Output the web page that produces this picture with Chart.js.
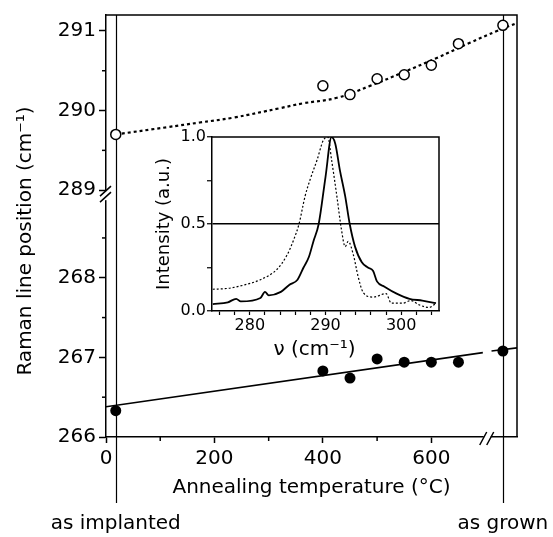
<!DOCTYPE html>
<html>
<head>
<meta charset="utf-8">
<script src="https://cdn.jsdelivr.net/npm/chart.js@4.4.1/dist/chart.umd.min.js"></script>
<style>
  body { margin: 0; background: #fff; }
  #wrap { position: relative; width: 553px; height: 537px; }
  #main { position: absolute; left: 0; top: 0; }
  #inset { position: absolute; left: 130px; top: 120px; }
</style>
</head>
<body>
<div id="wrap">
  <canvas id="main" width="553" height="537"></canvas>
  <canvas id="inset" width="320" height="250"></canvas>
</div>
<script>
// main plot: Raman line position vs annealing temperature
const asImplanted = 18;   // room temperature, drawn on its own line
const asGrown = 732;      // placed past the axis break
const temps = [asImplanted, 400, 450, 500, 550, 600, 650, asGrown];
const lowerPos = [266.33, 266.83, 266.74, 266.98, 266.94, 266.94, 266.94, 267.08];
const upperPos = [289.70, 290.31, 290.20, 290.40, 290.45, 290.57, 290.84, 291.07];

// linear fit of the lower branch (gap at the axis break)
const fitT = [0, 695, 703, 711, 758];
const fitPos = [266.38, 267.06, null, 267.08, 267.12];

// dotted guide through the upper branch
const guideT = [18, 112, 173, 234, 321, 363, 426, 487, 548, 610, 671, 721, 758];
const guidePos = [289.70, 289.79, 289.85, 289.91, 290.03, 290.09, 290.16, 290.31, 290.48, 290.66, 290.85, 291.00, 291.10];

// axis ticks
const xMajor = [0, 200, 400, 600];
const xMinor = [100, 300, 500];
const yLowMajor = [266, 267, 268];
const yHighMajor = [289, 290, 291];
const yMinor = [266.5, 267.5, 268.5, 289.5, 290.5];

// inset: Raman spectra
const solidNu = [275.1, 277.1, 278.2, 278.8, 281.4, 282.0, 282.5, 284.1, 285.2, 286.3, 287.1, 287.8, 288.4, 289.1, 290.0, 290.8, 291.3, 291.9, 292.6, 293.2, 293.9, 294.8, 295.6, 296.3, 296.8, 297.8, 299.4, 301.1, 302.8, 304.6];
const solidI = [0.04, 0.05, 0.07, 0.055, 0.075, 0.11, 0.09, 0.11, 0.15, 0.18, 0.25, 0.31, 0.40, 0.50, 0.77, 1.0, 0.96, 0.81, 0.66, 0.50, 0.37, 0.28, 0.25, 0.23, 0.17, 0.14, 0.10, 0.07, 0.06, 0.045];
const dotNu = [275.1, 277.1, 279.3, 281.4, 283.6, 284.9, 285.8, 286.5, 287.3, 288.0, 288.9, 289.7, 290.3, 290.8, 291.5, 292.1, 292.6, 293.0, 293.7, 294.3, 295.0, 296.3, 298.0, 298.7, 300.2, 301.3, 302.4, 303.7, 304.6];
const dotI = [0.125, 0.13, 0.15, 0.18, 0.24, 0.32, 0.41, 0.50, 0.66, 0.76, 0.87, 0.98, 1.0, 0.87, 0.66, 0.47, 0.37, 0.40, 0.32, 0.20, 0.105, 0.08, 0.10, 0.045, 0.045, 0.06, 0.035, 0.02, 0.045];

// y axis is broken between 268.x and 289: upper values are shifted down
const SHIFT = 19.9;
const virt = v => (v > 280 ? v - SHIFT : v);

Chart.defaults.font.family = "'DejaVu Sans', sans-serif";
Chart.defaults.color = '#000';

const pts = (xs, ys, f = v => v) => xs.map((x, i) => ({ x: x, y: ys[i] === null ? null : f(ys[i]) }));

const mainFont = { size: 20 };

const mainPlugin = {
  id: 'mainExtras',
  beforeDatasetsDraw(chart) {
    const { ctx, chartArea: a, scales: { x } } = chart;
    ctx.save();
    ctx.strokeStyle = '#000';
    ctx.lineWidth = 1.5;
    ctx.beginPath();
    ctx.moveTo(a.left, a.top);
    ctx.lineTo(a.right, a.top);
    ctx.lineTo(a.right, a.bottom);
    ctx.stroke();
    ctx.lineWidth = 1.2;
    [asImplanted, asGrown].forEach(t => {
      const px = Math.round(x.getPixelForValue(t)) + 0.5;
      ctx.beginPath();
      ctx.moveTo(px, a.top);
      ctx.lineTo(px, a.bottom + 66);
      ctx.stroke();
    });
    ctx.restore();
  },
  afterDraw(chart) {
    const { ctx, chartArea: a, scales: { x, y } } = chart;
    ctx.save();
    ctx.strokeStyle = '#000';
    ctx.lineWidth = 1.5;
    // minor ticks
    yMinor.forEach(v => {
      const py = y.getPixelForValue(virt(v));
      ctx.beginPath(); ctx.moveTo(a.left - 4, py); ctx.lineTo(a.left, py); ctx.stroke();
    });
    xMinor.forEach(v => {
      const px = x.getPixelForValue(v);
      ctx.beginPath(); ctx.moveTo(px, a.bottom); ctx.lineTo(px, a.bottom + 4); ctx.stroke();
    });
    // y break
    const yb = y.getPixelForValue(virt(289));
    ctx.fillStyle = '#fff';
    ctx.fillRect(a.left - 2, yb + 1, 4, 9);
    ctx.beginPath();
    ctx.moveTo(a.left - 6, yb + 6); ctx.lineTo(a.left + 5, yb - 4);
    ctx.moveTo(a.left - 6, yb + 12); ctx.lineTo(a.left + 5, yb + 2);
    ctx.stroke();
    // x break
    const xb = x.getPixelForValue(704);
    ctx.fillRect(xb - 4, a.bottom - 2, 7, 4);
    ctx.beginPath();
    ctx.moveTo(xb - 8, a.bottom + 8); ctx.lineTo(xb - 1, a.bottom - 5);
    ctx.moveTo(xb - 1, a.bottom + 8); ctx.lineTo(xb + 6, a.bottom - 5);
    ctx.stroke();
    // labels
    ctx.fillStyle = '#000';
    ctx.font = "20px 'DejaVu Sans'";
    ctx.textAlign = 'center';
    ctx.textBaseline = 'middle';
    ctx.fillText('as implanted', x.getPixelForValue(asImplanted), 524);
    ctx.fillText('as grown', x.getPixelForValue(asGrown), 524);
    ctx.translate(26, 241);
    ctx.rotate(-Math.PI / 2);
    ctx.fillText('Raman line position (cm⁻¹)', 0, 0);
    ctx.restore();
  }
};

new Chart(document.getElementById('main'), {
  type: 'scatter',
  data: {
    datasets: [
      {
        data: pts(temps, upperPos, virt),
        pointRadius: 5, pointBorderWidth: 1.5,
        pointBackgroundColor: '#fff', pointBorderColor: '#000'
      },
      {
        data: pts(temps, lowerPos),
        pointRadius: 5.5, pointBorderWidth: 0,
        pointBackgroundColor: '#000', pointBorderColor: '#000'
      },
      {
        data: pts(fitT, fitPos),
        showLine: true, spanGaps: false, pointRadius: 0,
        borderColor: '#000', borderWidth: 1.6
      },
      {
        data: pts(guideT, guidePos, virt),
        showLine: true, pointRadius: 0, tension: 0.4,
        borderColor: '#000', borderWidth: 2.2, borderDash: [3, 3]
      }
    ]
  },
  options: {
    responsive: false,
    animation: false,
    layout: { padding: { top: 12, right: 36, left: 0, bottom: 0 } },
    plugins: { legend: { display: false }, tooltip: { enabled: false } },
    scales: {
      x: {
        type: 'linear', min: 0, max: 758,
        afterFit: s => { s.height = 100; },
        afterBuildTicks: s => { s.ticks = xMajor.map(v => ({ value: v })); },
        ticks: { font: mainFont, color: '#000', padding: 4, maxRotation: 0, autoSkip: false },
        grid: { drawOnChartArea: false, tickLength: 6, tickColor: '#000', tickWidth: 1.5 },
        border: { color: '#000', width: 1.5 },
        title: {
          display: true, text: 'Annealing temperature (°C)', font: mainFont, color: '#000',
          padding: { top: 0, bottom: 37 }
        }
      },
      y: {
        type: 'linear', min: 266, max: 271.3,
        afterFit: s => { s.width = 106; },
        afterBuildTicks: s => {
          s.ticks = yLowMajor.concat(yHighMajor).map(v => ({ value: virt(v) }));
        },
        ticks: {
          font: mainFont, color: '#000', padding: 3, autoSkip: false,
          callback: v => String(Math.round(v > 268.9 ? v + SHIFT : v))
        },
        grid: { drawOnChartArea: false, tickLength: 7, tickColor: '#000', tickWidth: 1.5 },
        border: { color: '#000', width: 1.5 }
      }
    }
  },
  plugins: [mainPlugin]
});

// inset chart
const insetPlugin = {
  id: 'insetExtras',
  afterDraw(chart) {
    const { ctx, chartArea: a } = chart;
    ctx.save();
    ctx.strokeStyle = '#000';
    ctx.lineWidth = 1.5;
    ctx.beginPath();
    ctx.moveTo(a.left, a.top);
    ctx.lineTo(a.right, a.top);
    ctx.lineTo(a.right, a.bottom);
    ctx.stroke();
    ctx.fillStyle = '#000';
    ctx.font = "20px 'DejaVu Sans'";
    ctx.textAlign = 'center';
    ctx.textBaseline = 'middle';
    ctx.fillText('ν (cm⁻¹)', (a.left + a.right) / 2 - 11, 230);
    ctx.restore();
  }
};

new Chart(document.getElementById('inset'), {
  type: 'scatter',
  data: {
    datasets: [
      {
        data: pts(solidNu, solidI),
        showLine: true, pointRadius: 0, cubicInterpolationMode: 'monotone',
        borderColor: '#000', borderWidth: 1.8
      },
      {
        data: pts(dotNu, dotI),
        showLine: true, pointRadius: 0, cubicInterpolationMode: 'monotone',
        borderColor: '#000', borderWidth: 1.2, borderDash: [2, 2]
      }
    ]
  },
  options: {
    responsive: false,
    animation: false,
    layout: { padding: { top: 17, right: 11, left: 0, bottom: 0 } },
    plugins: { legend: { display: false }, tooltip: { enabled: false } },
    scales: {
      x: {
        type: 'linear', min: 275, max: 305,
        afterFit: s => { s.height = 59; },
        afterBuildTicks: s => {
          const t = [];
          for (let v = 276; v <= 304; v += 2) t.push({ value: v });
          s.ticks = t;
        },
        ticks: {
          font: { size: 16 }, color: '#000', padding: 1, maxRotation: 0, autoSkip: false,
          callback: v => (v % 10 === 0 ? String(v) : '')
        },
        grid: { drawOnChartArea: false, tickLength: 4, tickColor: '#000', tickWidth: 1.2 },
        border: { color: '#000', width: 1.5 }
      },
      y: {
        type: 'linear', min: 0, max: 1,
        afterFit: s => { s.width = 82; },
        afterBuildTicks: s => { s.ticks = [0, 0.25, 0.5, 0.75, 1].map(v => ({ value: v })); },
        ticks: {
          font: { size: 16 }, color: '#000', padding: 1, autoSkip: false,
          callback: v => (v * 2 % 1 === 0 ? v.toFixed(1) : '')
        },
        grid: {
          drawOnChartArea: true, tickLength: 5, tickColor: '#000', tickWidth: 1.2,
          color: c => (c.tick && c.tick.value === 0.5 ? '#000' : 'rgba(0,0,0,0)'),
          lineWidth: 1.5
        },
        border: { color: '#000', width: 1.5 },
        title: {
          display: true, text: 'Intensity (a.u.)', font: { size: 18 }, color: '#000',
          padding: { top: 24, bottom: 0 }
        }
      }
    }
  },
  plugins: [insetPlugin]
});
</script>
</body>
</html>
